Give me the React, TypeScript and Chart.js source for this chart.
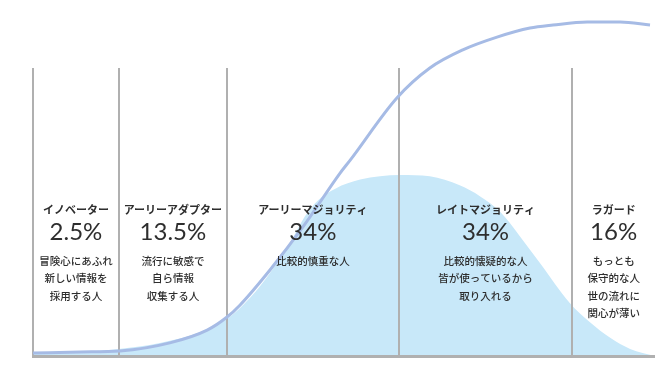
import React, { useEffect, useRef } from "react";
import { Chart, registerables } from "chart.js";

Chart.register(...registerables);

// Adoption timeline position (0-100) and share of adopters (0-100)
const bellX = [0, 7.6, 13.8, 20.4, 26.8, 31.2, 34.9, 38.1, 41.3, 43.7, 45.8, 48.6, 52.6, 59.0, 63.8, 68.6, 71.9, 75.1, 78.3, 81.5, 86.3, 89.5, 92.8, 96.0, 100];
const bellY = [0.6, 1.2, 2.1, 3.9, 7.1, 11.0, 17.3, 24.7, 33.6, 41.5, 46.3, 49.8, 52.5, 53.9, 53.5, 50.8, 47.5, 42.9, 35.6, 27.7, 15.8, 10.1, 5.4, 2.1, 0];

const cumX = [0, 7.6, 14.0, 22.0, 28.0, 31.2, 33.3, 38.1, 43.4, 49.4, 51.0, 58.5, 63.8, 69.1, 74.6, 79.9, 83.6, 89.1, 94.4, 99.2];
const cumY = [0.9, 1.2, 1.5, 3.9, 7.7, 11.6, 15.2, 25.6, 38.4, 54.5, 58.3, 76.8, 85.7, 91.1, 94.9, 97.6, 98.5, 99.4, 99.4, 98.5];

const boundaries = [0, 13.8, 31.2, 58.8, 86.7, 100];
const dividerTop = 85.7;

const segmentNames = ["イノベーター", "アーリーアダプター", "アーリーマジョリティ", "レイトマジョリティ", "ラガード"];
const segmentShares = ["2.5%", "13.5%", "34%", "34%", "16%"];
const segmentDescriptions = [
  ["冒険心にあふれ", "新しい情報を", "採用する人"],
  ["流行に敏感で", "自ら情報", "収集する人"],
  ["比較的慎重な人"],
  ["比較的懐疑的な人", "皆が使っているから", "取り入れる"],
  ["もっとも", "保守的な人", "世の流れに", "関心が薄い"],
];

const GRID = "#b0b0b0";
const TEXT = "#2e2e2e";

const overlayPlugin = {
  id: "overlay",
  afterDatasetDraw(chart: any, args: any) {
    if (args.index !== 1) return;
    const ctx = chart.ctx;
    const xs = chart.scales.x;
    const ys = chart.scales.y;
    ctx.save();
    ctx.strokeStyle = GRID;
    ctx.lineWidth = 2;
    for (let i = 0; i < boundaries.length - 1; i++) {
      const px = Math.round(xs.getPixelForValue(boundaries[i]));
      ctx.beginPath();
      ctx.moveTo(px, ys.getPixelForValue(dividerTop));
      ctx.lineTo(px, ys.getPixelForValue(0));
      ctx.stroke();
    }
    ctx.lineWidth = 3;
    ctx.beginPath();
    ctx.moveTo(xs.getPixelForValue(boundaries[0]) - 1, ys.getPixelForValue(0) + 0.5);
    ctx.lineTo(xs.getPixelForValue(boundaries[boundaries.length - 1]), ys.getPixelForValue(0) + 0.5);
    ctx.stroke();
    ctx.restore();
  },
  afterDatasetsDraw(chart: any) {
    const ctx = chart.ctx;
    const xs = chart.scales.x;
    ctx.save();
    ctx.fillStyle = TEXT;
    ctx.textAlign = "center";
    ctx.textBaseline = "middle";
    for (let i = 0; i < segmentNames.length; i++) {
      const cx = (xs.getPixelForValue(boundaries[i]) + xs.getPixelForValue(boundaries[i + 1])) / 2;
      ctx.font = 'bold 11px "Noto Sans CJK JP"';
      ctx.fillText(segmentNames[i], cx, 210);
      ctx.font = '400 24px Lato';
      ctx.fillText(segmentShares[i], cx, 232);
      ctx.font = '500 10.5px "Noto Sans CJK JP"';
      segmentDescriptions[i].forEach((line, j) => {
        ctx.fillText(line, cx, 261 + j * 17.3);
      });
    }
    ctx.restore();
  },
};

export default function App() {
  const ref = useRef<HTMLCanvasElement | null>(null);
  useEffect(() => {
    if (!ref.current) return;
    const chart = new Chart(ref.current, {
      type: "line",
      data: {
        datasets: [
          {
            label: "累積普及率",
            data: cumX.map((x, i) => ({ x, y: cumY[i] })),
            borderColor: "#a6bbe5",
            borderWidth: 3,
            pointRadius: 0,
            fill: false,
            cubicInterpolationMode: "monotone",
            clip: false,
          },
          {
            label: "採用者分布",
            data: bellX.map((x, i) => ({ x, y: bellY[i] })),
            borderColor: "rgba(0,0,0,0)",
            borderWidth: 0,
            backgroundColor: "#c8e8f9",
            pointRadius: 0,
            fill: "origin",
            cubicInterpolationMode: "monotone",
            clip: false,
          },
        ],
      },
      options: {
        animation: false,
        responsive: false,
        events: [],
        layout: { padding: { left: 33, right: 15, top: 20, bottom: 24 } },
        plugins: { legend: { display: false }, tooltip: { enabled: false } },
        scales: {
          x: { type: "linear", min: 0, max: 100, display: false },
          y: { type: "linear", min: 0, max: 100, display: false },
        },
      } as any,
      plugins: [overlayPlugin],
    });
    return () => chart.destroy();
  }, []);
  return (
    <div style={{ position: "absolute", left: 0, top: 0, width: 670, height: 380, background: "#fff" }}>
      <canvas ref={ref} width={670} height={380} />
    </div>
  );
}
